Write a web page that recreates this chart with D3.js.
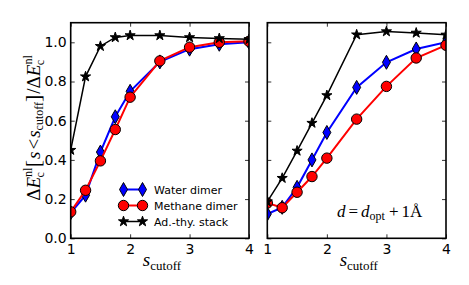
<!DOCTYPE html>
<html>
<head>
<meta charset="utf-8">
<script src="https://cdn.jsdelivr.net/npm/d3@7"></script>
<style>
  body { margin: 0; background: #fff; }
  svg { display: block; }
  .tick text { font-family: "DejaVu Sans", sans-serif; font-size: 14px; fill: #000; }
  .serif { font-family: "Liberation Serif", "DejaVu Serif", serif; fill: #000; }
</style>
</head>
<body>
<svg id="chart" width="469" height="285"></svg>
<script>
// s_cutoff values shared by all series
const sCutoff = [1, 1.25, 1.5, 1.75, 2, 2.5, 3, 3.5, 4];

// left panel: equilibrium distance
const waterLeft   = [0.13, 0.22, 0.44, 0.62, 0.75, 0.90, 0.965, 0.99, 1.0];
const methaneLeft = [0.135, 0.245, 0.395, 0.555, 0.72, 0.905, 0.975, 1.0, 1.005];
const stackLeft   = [0.45, 0.825, 0.98, 1.025, 1.035, 1.035, 1.025, 1.02, 1.015];

// right panel: d = d_opt + 1 Å
const waterRight   = [0.124, 0.158, 0.26, 0.40, 0.54, 0.77, 0.898, 0.966, 1.0];
const methaneRight = [0.18, 0.156, 0.235, 0.315, 0.409, 0.608, 0.775, 0.92, 0.985];
const stackRight   = [0.187, 0.307, 0.446, 0.588, 0.729, 1.039, 1.055, 1.048, 1.038];

const xTicks = [1, 2, 3, 4];
const yTicks = [0, 0.2, 0.4, 0.6, 0.8, 1.0];
const legendNames = ['Water dimer', 'Methane dimer', 'Ad.-thy. stack'];

const svg = d3.select('#chart');
const yTop = 22.7, yBottom = 238.3;

const y = d3.scaleLinear().domain([0, 1.1]).range([yBottom, yTop]);

const styles = [
    {color: 'blue', marker: 'diamond', lw: 2},
    {color: 'red', marker: 'circle', lw: 2},
    {color: 'black', marker: 'star', lw: 1.5}
];

function markerPath(kind) {
    if (kind === 'diamond') return 'M0,-7 L4,0 L0,7 L-4,0 Z';
    if (kind === 'circle') return d3.symbol(d3.symbolCircle, 85)();
    return d3.symbol(d3.symbolStar, 32)();
}
function markerFill(kind, color) {
    return kind === 'star' ? 'black' : color;
}

function drawPanel(x0, x1, series, showYLabels) {
    const x = d3.scaleLinear().domain([1, 4]).range([x0, x1]);
    const g = svg.append('g');

    // axes with inward ticks on all four sides
    const bottomAxis = g.append('g').attr('transform', `translate(0,${yBottom})`)
        .call(d3.axisBottom(x).tickValues(xTicks).tickSize(-4).tickPadding(6).tickFormat(d3.format('d')));
    const topAxis = g.append('g').attr('transform', `translate(0,${yTop})`)
        .call(d3.axisTop(x).tickValues(xTicks).tickSize(-4).tickFormat(''));
    const leftAxis = g.append('g').attr('transform', `translate(${x0},0)`)
        .call(d3.axisLeft(y).tickValues(yTicks).tickSize(-4).tickPadding(4)
            .tickFormat(showYLabels ? d3.format('.1f') : ''));
    const rightAxis = g.append('g').attr('transform', `translate(${x1},0)`)
        .call(d3.axisRight(y).tickValues(yTicks).tickSize(-4).tickFormat(''));
    [bottomAxis, topAxis, leftAxis, rightAxis].forEach(a => {
        a.select('.domain').remove();
        a.selectAll('.tick line').attr('stroke', '#000').attr('stroke-width', 0.8);
    });

    const clip = 'clip' + Math.round(x0);
    g.append('clipPath').attr('id', clip).append('rect')
        .attr('x', x0).attr('y', yTop).attr('width', x1 - x0).attr('height', yBottom - yTop);

    const plot = g.append('g').attr('clip-path', `url(#${clip})`);
    const line = d3.line().x(d => x(d[0])).y(d => y(d[1]));

    series.forEach((vals, i) => {
        const st = styles[i];
        const pts = sCutoff.map((s, j) => [s, vals[j]]);
        plot.append('path').datum(pts)
            .attr('d', line)
            .attr('fill', 'none')
            .attr('stroke', st.color)
            .attr('stroke-width', st.lw);
        plot.selectAll('.m' + i).data(pts).join('path')
            .attr('class', 'm' + i)
            .attr('transform', d => `translate(${x(d[0])},${y(d[1])})`)
            .attr('d', markerPath(st.marker))
            .attr('fill', markerFill(st.marker, st.color))
            .attr('stroke', 'black')
            .attr('stroke-width', 1);
    });

    // frame
    g.append('rect').attr('x', x0).attr('y', yTop)
        .attr('width', x1 - x0).attr('height', yBottom - yTop)
        .attr('fill', 'none').attr('stroke', '#000').attr('stroke-width', 1.6);

    // x label
    const xl = g.append('text').attr('class', 'serif')
        .attr('x', (x0 + x1) / 2 - 17).attr('y', 266);
    xl.append('tspan').attr('font-style', 'italic').attr('font-size', 19).text('s');
    xl.append('tspan').attr('font-size', 13).attr('dy', 3.5).text('cutoff');
    return x;
}

drawPanel(70.7, 249, [waterLeft, methaneLeft, stackLeft], true);
drawPanel(267.3, 446, [waterRight, methaneRight, stackRight], false);

// legend
const legend = svg.append('g');
legendNames.forEach((name, i) => {
    const st = styles[i];
    const ly = 189.5 + i * 16;
    legend.append('line').attr('x1', 123.5).attr('x2', 142.5)
        .attr('y1', ly).attr('y2', ly)
        .attr('stroke', st.color).attr('stroke-width', st.lw);
    [123.5, 142.5].forEach(mx => {
        legend.append('path').attr('transform', `translate(${mx},${ly})`)
            .attr('d', markerPath(st.marker))
            .attr('fill', markerFill(st.marker, st.color))
            .attr('stroke', 'black').attr('stroke-width', 1);
    });
    legend.append('text').attr('x', 154).attr('y', ly + 4)
        .style('font-family', '"DejaVu Sans", sans-serif').style('font-size', '11px')
        .text(name);
});

// annotation d = d_opt + 1Å
const ann = svg.append('text').attr('class', 'serif').attr('x', 337).attr('y', 217).attr('font-size', 17);
ann.append('tspan').attr('font-style', 'italic').text('d');
ann.append('tspan').attr('dx', 3).text('=');
ann.append('tspan').attr('font-style', 'italic').attr('dx', 3).text('d');
ann.append('tspan').attr('font-size', 12).attr('dy', 3).text('opt');
ann.append('tspan').attr('dy', -3).attr('dx', 4).text('+');
ann.append('tspan').attr('dx', 3).text('1Å');

// y label
const yl = svg.append('text').attr('class', 'serif')
    .attr('transform', 'translate(40,128) rotate(-90)')
    .attr('text-anchor', 'middle').attr('font-size', 19);
yl.append('tspan').text('Δ');
yl.append('tspan').attr('font-style', 'italic').text('E');
yl.append('tspan').attr('font-size', 12).attr('dy', -8).text('nl');
yl.append('tspan').attr('font-size', 12).attr('dx', -10).attr('dy', 12).text('c');
yl.append('tspan').attr('dy', -4).attr('dx', 5).attr('font-size', 22).text('[');
yl.append('tspan').attr('font-style', 'italic').attr('dx', 1).text('s');
yl.append('tspan').attr('dx', 2).text('<');
yl.append('tspan').attr('font-style', 'italic').attr('dx', 1).text('s');
yl.append('tspan').attr('font-size', 12).attr('dy', 3).text('cutoff');
yl.append('tspan').attr('font-size', 22).attr('dy', -3).text(']');
yl.append('tspan').attr('dx', 1).text('/Δ');
yl.append('tspan').attr('font-style', 'italic').text('E');
yl.append('tspan').attr('font-size', 12).attr('dy', -8).text('nl');
yl.append('tspan').attr('font-size', 12).attr('dx', -10).attr('dy', 12).text('c');
</script>
</body>
</html>
